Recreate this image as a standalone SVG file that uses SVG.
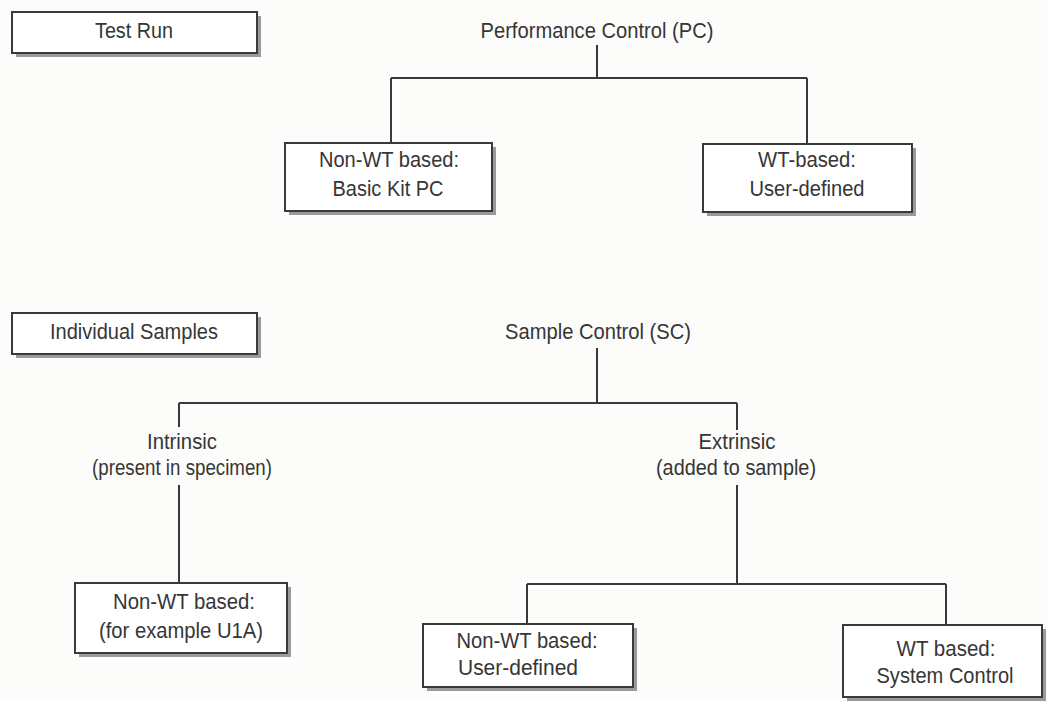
<svg xmlns="http://www.w3.org/2000/svg" width="1049" height="702" viewBox="0 0 1049 702">
<style>
.bg{fill:#fcfcfa}
.box{fill:#ffffff;stroke:#3a3a3a;stroke-width:2}
.sh{fill:#9a9a9a}
.t{font-family:"Liberation Sans",Arial,sans-serif;font-size:22px;fill:#363636;text-anchor:middle}
.ln{stroke:#3a3a3a;stroke-width:2;fill:none}
</style>
<rect class="bg" x="0" y="0" width="1049" height="702"/>
<g id="connectors">
<path class="ln" d="M597 45V78M391 78H807M391 78V143M807 78V144"/>
<path class="ln" d="M597 348V403M179 403H737M179 403V427M737 403V430"/>
<path class="ln" d="M179 485V583M737 485V584M527 584H946M527 584V624M946 584V625"/>
</g>
<g id="test-run">
<rect class="sh" x="16" y="16" width="245" height="41"/>
<rect class="box" x="12" y="12" width="245" height="41"/>
<text class="t" x="134" y="38" textLength="78" lengthAdjust="spacingAndGlyphs">Test Run</text>
</g>
<g id="pc">
<text class="t" x="597" y="38" textLength="233" lengthAdjust="spacingAndGlyphs">Performance Control (PC)</text>
</g>
<g id="pc-nonwt">
<rect class="sh" x="289" y="147" width="207" height="68"/>
<rect class="box" x="285" y="143" width="207" height="68"/>
<text class="t" x="389" y="167" textLength="140" lengthAdjust="spacingAndGlyphs">Non-WT based:</text>
<text class="t" x="388" y="196" textLength="111" lengthAdjust="spacingAndGlyphs">Basic Kit PC</text>
</g>
<g id="pc-wt">
<rect class="sh" x="707" y="148" width="209" height="68"/>
<rect class="box" x="703" y="144" width="209" height="68"/>
<text class="t" x="807" y="167" textLength="98" lengthAdjust="spacingAndGlyphs">WT-based:</text>
<text class="t" x="807" y="196" textLength="115" lengthAdjust="spacingAndGlyphs">User-defined</text>
</g>
<g id="individual-samples">
<rect class="sh" x="16" y="317" width="245" height="41"/>
<rect class="box" x="12" y="313" width="245" height="41"/>
<text class="t" x="134" y="339" textLength="168" lengthAdjust="spacingAndGlyphs">Individual Samples</text>
</g>
<g id="sc">
<text class="t" x="598" y="339" textLength="186" lengthAdjust="spacingAndGlyphs">Sample Control (SC)</text>
</g>
<g id="intrinsic">
<text class="t" x="182" y="449" textLength="70" lengthAdjust="spacingAndGlyphs">Intrinsic</text>
<text class="t" x="182" y="475" textLength="180" lengthAdjust="spacingAndGlyphs">(present in specimen)</text>
</g>
<g id="extrinsic">
<text class="t" x="737" y="449" textLength="77" lengthAdjust="spacingAndGlyphs">Extrinsic</text>
<text class="t" x="736" y="475" textLength="160" lengthAdjust="spacingAndGlyphs">(added to sample)</text>
</g>
<g id="sc-intrinsic-nonwt">
<rect class="sh" x="79" y="587" width="212" height="70"/>
<rect class="box" x="75" y="583" width="212" height="70"/>
<text class="t" x="184" y="609" textLength="142" lengthAdjust="spacingAndGlyphs">Non-WT based:</text>
<text class="t" x="181" y="638" textLength="164" lengthAdjust="spacingAndGlyphs">(for example U1A)</text>
</g>
<g id="sc-extrinsic-nonwt">
<rect class="sh" x="427" y="628" width="210" height="63"/>
<rect class="box" x="423" y="624" width="210" height="63"/>
<text class="t" x="527" y="648" textLength="141" lengthAdjust="spacingAndGlyphs">Non-WT based:</text>
<text class="t" x="518" y="675" textLength="120" lengthAdjust="spacingAndGlyphs">User-defined</text>
</g>
<g id="sc-extrinsic-wt">
<rect class="sh" x="847" y="629" width="199" height="72"/>
<rect class="box" x="843" y="625" width="199" height="72"/>
<text class="t" x="946" y="656" textLength="99" lengthAdjust="spacingAndGlyphs">WT based:</text>
<text class="t" x="945" y="683" textLength="137" lengthAdjust="spacingAndGlyphs">System Control</text>
</g>
</svg>
